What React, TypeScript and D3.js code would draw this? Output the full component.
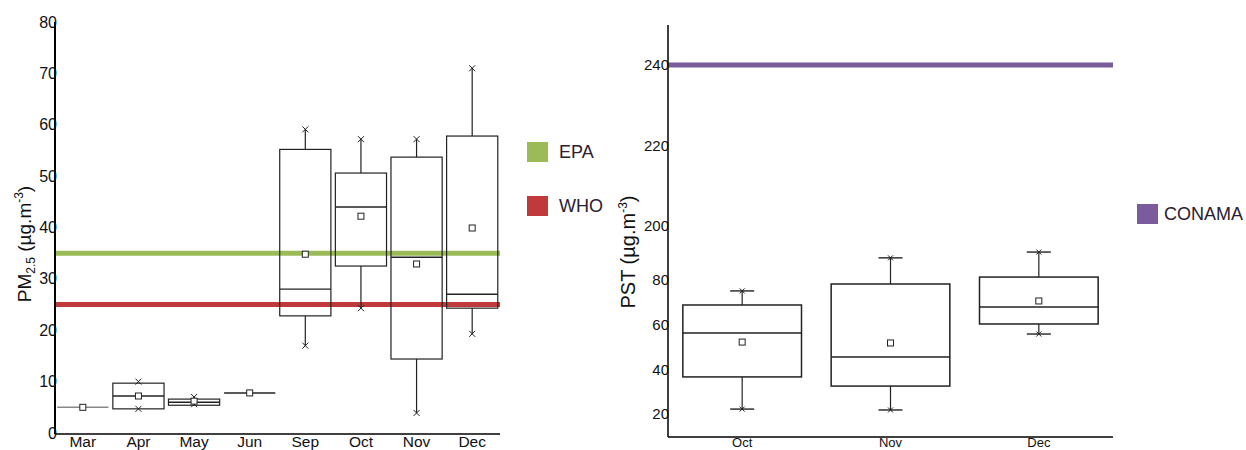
import React from "react";
import * as d3 from "d3";

const monthsL = ["Mar", "Apr", "May", "Jun", "Sep", "Oct", "Nov", "Dec"];
const pmMin = [5.0, 4.7, 5.6, 7.8, 17.0, 24.3, 3.9, 19.3];
const pmQ1 = [5.0, 4.7, 5.4, 7.8, 22.8, 32.5, 14.4, 24.3];
const pmMedian = [5.0, 7.2, 6.0, 7.8, 28.0, 44.0, 34.2, 27.0];
const pmQ3 = [5.0, 9.7, 6.6, 7.8, 55.2, 50.6, 53.7, 57.8];
const pmMax = [5.0, 10.0, 7.0, 7.8, 59.1, 57.2, 57.2, 71.0];
const pmMean = [5.0, 7.2, 6.2, 7.8, 34.8, 42.2, 32.9, 39.9];
const pmTicks = [0, 10, 20, 30, 40, 50, 60, 70, 80];
const pmLimits = [
  { name: "EPA", value: 35, color: "#9bbb59" },
  { name: "WHO", value: 25, color: "#c0393b" },
];

const monthsR = ["Oct", "Nov", "Dec"];
const pstMin = [22.2, 21.8, 55.8];
const pstQ1 = [36.6, 32.5, 60.3];
const pstMedian = [56.3, 45.5, 67.9];
const pstQ3 = [68.8, 78.2, 81.3];
const pstMax = [75.1, 89.9, 92.5];
const pstMean = [52.2, 51.8, 70.6];
const pstTicks = [20, 40, 60, 80, 200, 220, 240];
const pstLimits = [{ name: "CONAMA", value: 240, color: "#7a5b9c" }];

const FONT = "'Liberation Sans', Arial, sans-serif";

function XMark({ x, y, s = 3, color = "#222" }: { x: number; y: number; s?: number; color?: string }) {
  return (
    <g stroke={color} strokeWidth={1}>
      <line x1={x - s} y1={y - s} x2={x + s} y2={y + s} />
      <line x1={x - s} y1={y + s} x2={x + s} y2={y - s} />
    </g>
  );
}

export default function App() {
  // Left chart
  const L = { x0: 55, x1: 500, yTop: 22, yBot: 434 };
  const xL = d3.scaleBand<string>().domain(monthsL).range([L.x0, L.x1]).paddingInner(0.08).paddingOuter(0.04);
  const yL = d3.scaleLinear().domain([0, 80]).range([433, 22]);

  // Right chart (broken axis)
  const R = { x0: 668, x1: 1113, yTop: 25, yBot: 437 };
  const xR = d3.scaleBand<string>().domain(monthsR).range([R.x0, R.x1]).paddingInner(0.2).paddingOuter(0.1);
  const yR = d3.scaleLinear().domain([9.7, 100, 200, 250]).range([437, 235.3, 226, 24.75]);

  const stroke = "#222";

  return (
    <svg width={1246} height={450} style={{ position: "absolute", left: 0, top: 0, background: "#fff" }} fontFamily={FONT}>
      {/* ---------- LEFT CHART ---------- */}
      {pmLimits.map((l) => (
        <line key={l.name} x1={L.x0} x2={L.x1} y1={yL(l.value)} y2={yL(l.value)} stroke={l.color} strokeWidth={5} />
      ))}
      {monthsL.map((m, i) => {
        const bx = xL(m)!;
        const bw = xL.bandwidth();
        const cx = bx + bw / 2;
        const collapsed = pmQ3[i] - pmQ1[i] < 0.01;
        return (
          <g key={m}>
            {pmMax[i] > pmQ3[i] + 0.5 && (
              <line x1={cx} x2={cx} y1={yL(pmQ3[i])} y2={yL(pmMax[i])} stroke={stroke} strokeWidth={1.2} />
            )}
            {pmMin[i] < pmQ1[i] - 0.5 && (
              <line x1={cx} x2={cx} y1={yL(pmQ1[i])} y2={yL(pmMin[i])} stroke={stroke} strokeWidth={1.2} />
            )}
            <rect
              x={bx}
              y={yL(pmQ3[i])}
              width={bw}
              height={Math.max(0, yL(pmQ1[i]) - yL(pmQ3[i]))}
              fill="none"
              stroke={collapsed && i === 0 ? "#888" : stroke}
              strokeWidth={1.2}
            />
            <line x1={bx} x2={bx + bw} y1={yL(pmMedian[i])} y2={yL(pmMedian[i])} stroke={collapsed && i === 0 ? "#888" : stroke} strokeWidth={1.4} />
            {!collapsed && (
              <>
                <XMark x={cx} y={yL(pmMax[i])} s={3} />
                <XMark x={cx} y={yL(pmMin[i])} s={3} />
              </>
            )}
            <rect x={cx - 3} y={yL(pmMean[i]) - 3} width={6} height={6} fill="#fff" stroke={stroke} strokeWidth={1} />
          </g>
        );
      })}
      <line x1={L.x0} x2={L.x0} y1={L.yTop} y2={L.yBot} stroke="#000" strokeWidth={2} />
      <line x1={L.x0} x2={L.x1} y1={L.yBot} y2={L.yBot} stroke="#000" strokeWidth={1.6} />
      {pmTicks.map((t) => (
        <text key={t} x={L.x0 + 2} y={yL(t)} dy="0.35em" textAnchor="end" fontSize={16} fill="#111">
          {t}
        </text>
      ))}
      {monthsL.map((m) => (
        <text key={m} x={xL(m)! + xL.bandwidth() / 2} y={447} textAnchor="middle" fontSize={15.5} fill="#111">
          {m}
        </text>
      ))}
      <text transform={`translate(31,244) rotate(-90)`} textAnchor="middle" fontSize={19} fill="#111">
        PM<tspan fontSize={12} dy={4}>2.5</tspan>
        <tspan dy={-4}> (µg.m</tspan>
        <tspan fontSize={12} dy={-8}>-3</tspan>
        <tspan dy={8}>)</tspan>
      </text>
      {pmLimits.map((l, i) => (
        <g key={l.name}>
          <rect x={527} y={142 + i * 54} width={21} height={20} fill={l.color} />
          <text x={559} y={152 + i * 54} dy="0.35em" fontSize={18} fill="#2a2030">
            {l.name}
          </text>
        </g>
      ))}

      {/* ---------- RIGHT CHART ---------- */}
      {pstLimits.map((l) => (
        <line key={l.name} x1={R.x0} x2={R.x1} y1={yR(l.value)} y2={yR(l.value)} stroke={l.color} strokeWidth={5} />
      ))}
      {monthsR.map((m, i) => {
        const bx = xR(m)!;
        const bw = xR.bandwidth();
        const cx = bx + bw / 2;
        return (
          <g key={m}>
            <line x1={cx} x2={cx} y1={yR(pstQ3[i])} y2={yR(pstMax[i])} stroke={stroke} strokeWidth={1.2} />
            <line x1={cx} x2={cx} y1={yR(pstQ1[i])} y2={yR(pstMin[i])} stroke={stroke} strokeWidth={1.2} />
            <line x1={cx - 12} x2={cx + 12} y1={yR(pstMax[i])} y2={yR(pstMax[i])} stroke={stroke} strokeWidth={1.4} />
            <line x1={cx - 12} x2={cx + 12} y1={yR(pstMin[i])} y2={yR(pstMin[i])} stroke={stroke} strokeWidth={1.4} />
            <XMark x={cx} y={yR(pstMax[i])} s={2.5} />
            <XMark x={cx} y={yR(pstMin[i])} s={2.5} />
            <rect x={bx} y={yR(pstQ3[i])} width={bw} height={yR(pstQ1[i]) - yR(pstQ3[i])} fill="none" stroke={stroke} strokeWidth={1.5} />
            <line x1={bx} x2={bx + bw} y1={yR(pstMedian[i])} y2={yR(pstMedian[i])} stroke={stroke} strokeWidth={1.5} />
            <rect x={cx - 3} y={yR(pstMean[i]) - 3} width={6} height={6} fill="#fff" stroke={stroke} strokeWidth={1} />
          </g>
        );
      })}
      <line x1={R.x0} x2={R.x0} y1={R.yTop} y2={R.yBot} stroke="#000" strokeWidth={1.5} />
      <line x1={R.x0} x2={R.x1} y1={R.yBot} y2={R.yBot} stroke="#000" strokeWidth={1.6} />
      {pstTicks.map((t) => (
        <text key={t} x={R.x0 + 1} y={yR(t)} dy="0.35em" textAnchor="end" fontSize={15} fill="#111">
          {t}
        </text>
      ))}
      {monthsR.map((m) => (
        <text key={m} x={xR(m)! + xR.bandwidth() / 2} y={446.5} textAnchor="middle" fontSize={13} fill="#111">
          {m}
        </text>
      ))}
      <text transform={`translate(635,252) rotate(-90)`} textAnchor="middle" fontSize={20} fill="#111">
        PST (µg.m
        <tspan fontSize={12} dy={-8}>-3</tspan>
        <tspan dy={8}>)</tspan>
      </text>
      {pstLimits.map((l) => (
        <g key={l.name}>
          <rect x={1137} y={204} width={21} height={20} fill={l.color} />
          <text x={1164} y={214} dy="0.35em" fontSize={18} fill="#2a2030">
            {l.name}
          </text>
        </g>
      ))}
    </svg>
  );
}
